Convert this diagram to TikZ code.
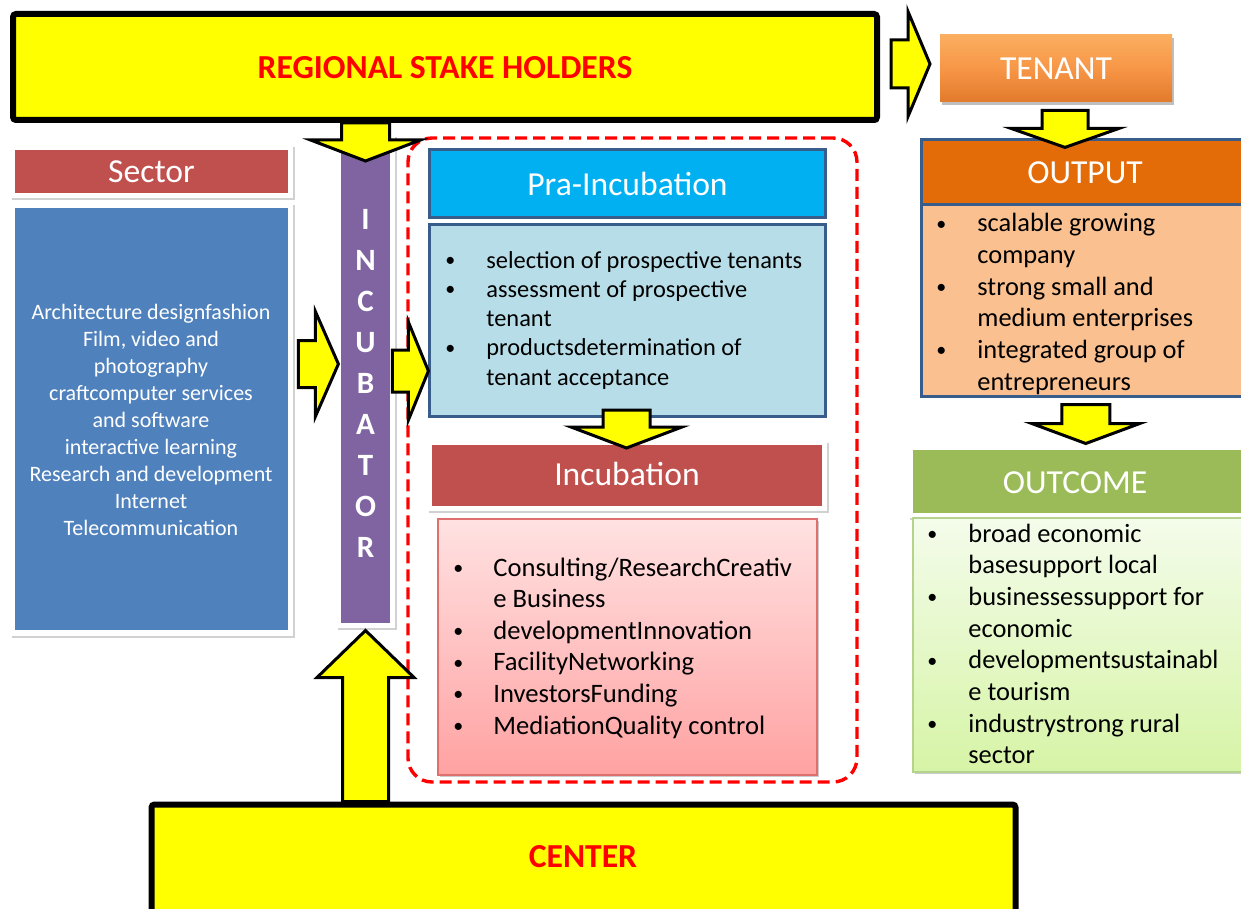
\documentclass[tikz,border=0pt]{standalone}
\usepackage{fontspec}
\setmainfont{Carlito}
\usetikzlibrary{shadows,calc,fit}
\definecolor{cYel}{HTML}{FFFF00}
\definecolor{cRed}{HTML}{FF0000}
\definecolor{cSecHdr}{HTML}{C0504D}
\definecolor{cSecBody}{HTML}{4F81BD}
\definecolor{cPurple}{HTML}{8064A2}
\definecolor{cBlueBorder}{HTML}{385D8A}
\definecolor{cPraHdr}{HTML}{00B0F0}
\definecolor{cPraBody}{HTML}{B7DEE8}
\definecolor{cOutHdr}{HTML}{E36C09}
\definecolor{cOutBody}{HTML}{FAC090}
\definecolor{cOutcHdr}{HTML}{9BBB59}
\definecolor{cOutcTop}{HTML}{F4FCEB}
\definecolor{cOutcBot}{HTML}{D6F4A6}
\definecolor{cOutcBorder}{HTML}{B5D38A}
\definecolor{cIncTop}{HTML}{FFE2E2}
\definecolor{cIncBot}{HTML}{FFA2A2}
\definecolor{cIncBorder}{HTML}{E07070}
\definecolor{cTenTop}{HTML}{FBAE60}
\definecolor{cTenMid}{HTML}{F79646}
\definecolor{cTenBot}{HTML}{E27A2C}
\tikzset{
  bigbox/.style={draw=black, line width=3pt, fill=cYel, rounded corners=1.5pt, inner sep=0pt,
    drop shadow={shadow xshift=1pt, shadow yshift=-1.5pt, opacity=0.3, fill=black}},
  framebox/.style={fill=white, inner sep=0pt,
    drop shadow={shadow xshift=1pt, shadow yshift=-1pt, opacity=0.18, fill=black}},
  plainbox/.style={inner sep=0pt},
  bluebox/.style={draw=cBlueBorder, line width=1.5pt, inner sep=0pt},
  hdrtext/.style={text=white, font=\fontsize{16.8}{20}\selectfont},
  bigtext/.style={text=cRed, font=\bfseries\fontsize{16.8}{20}\selectfont},
  fatarrow/.style={draw=black, line width=1.5pt, fill=cYel, line join=miter},
  listtext/.style={anchor=base west, inner sep=0pt, text=black},
}
\newcommand{\fatright}[5]{\draw[fatarrow] (#1) ++(0,-#2) -- ++(#3,0) -- ++(0,{#2-#4}) -- ++(#5,#4) -- ++(-#5,#4) -- ++(0,{#2-#4}) -- ++(-#3,0) -- cycle;}
\newcommand{\fatdown}[5]{\draw[fatarrow] (#1) ++(-#2,0) -- ++(0,#3) -- ++({#2-#4},0) -- ++(#4,#5) -- ++(#4,-#5) -- ++({#2-#4},0) -- ++(0,-#3) -- cycle;}
\newcommand{\fatup}[5]{\draw[fatarrow] (#1) ++(-#2,0) -- ++(0,-#3) -- ++({#2-#4},0) -- ++(#4,-#5) -- ++(#4,#5) -- ++({#2-#4},0) -- ++(0,#3) -- cycle;}
\newcommand{\blist}[2]{\begin{tabular}[t]{@{}p{#1}@{}l@{}}#2\end{tabular}}
\newcommand{\bul}{{\fontsize{10}{10}\selectfont\raisebox{0.8pt}{\textbullet}}}
\begin{document}
\begin{tikzpicture}[x=0.5pt,y=-0.5pt]
\useasboundingbox (0,0) rectangle (1241,909);
\fill[white] (0,0) rectangle (1241,909);

% top and bottom yellow blocks
\node[bigbox, fit={(13,14)(877,120)}] (rsh) {};
\node[bigtext] (rshtxt) at (445,68) {REGIONAL STAKE HOLDERS};
\node[bigbox, fit={(151.5,804.5)(1015.5,940)}] (ctr) {};
\node[bigtext] (ctrtxt) at (583,857) {CENTER};

% sector
\node[framebox, fit={(10,145)(293,198)}] (secframe) {};
\node[plainbox, fill=cSecHdr, fit={(15,150)(288,193)}] (sechdr) {};
\node[hdrtext] (sechdrtxt) at (sechdr.center) {Sector};
\node[framebox, fit={(10,203)(293,636)}] (secbodyframe) {};
\node[plainbox, fill=cSecBody, fit={(15,208)(288,630)}] (secbody) {};
\node[anchor=base, inner sep=0pt, text=white, font=\fontsize{11}{13.5}\selectfont] (sectxt) at (151,319)
  {\begin{tabular}[t]{@{}c@{}}Architecture designfashion\\ Film, video and\\ photography\\ craftcomputer services\\ and software\\ interactive learning\\ Research and development\\ Internet\\ Telecommunication\end{tabular}};

% incubator bar
\node[framebox, fit={(336,135)(395,628)}] (incframe) {};
\node[plainbox, fill=cPurple, fit={(341,140)(390,623)}] (incbar) {};
\node[inner sep=0pt, text=white, font=\bfseries\fontsize{15.5}{20.5}\selectfont] (inctxt) at (365.5,385)
  {\begin{tabular}{@{}c@{}}I\\N\\C\\U\\B\\A\\T\\O\\R\end{tabular}};

% dashed phase frame
\node[plainbox, draw=cRed, line width=1.7pt, dash pattern=on 6pt off 3pt, rounded corners=12pt, fit={(408,138)(857,782)}] (phase) {};

% pra-incubation
\node[bluebox, fill=cPraHdr, fit={(429.5,149.5)(825.5,217.5)}] (prahdr) {};
\node[hdrtext] (prahdrtxt) at (prahdr.center) {Pra-Incubation};
\node[bluebox, fill=cPraBody, fit={(429.5,224.5)(825.5,416.5)}] (prabody) {};
\node[listtext, font=\fontsize{12.2}{14.65}\selectfont] (pralist) at (445,268)
  {\blist{20.5pt}{\bul & selection of prospective tenants\\ \bul & assessment of prospective\\ & tenant\\ \bul & productsdetermination of\\ & tenant acceptance}};

% incubation
\node[framebox, fit={(427,441)(827,511)}] (incuframe) {};
\node[plainbox, fill=cSecHdr, fit={(432,445)(822,506)}] (incuhdr) {};
\node[hdrtext] (incuhdrtxt) at (627,474) {Incubation};
\node[plainbox, draw=cIncBorder, line width=0.6pt, top color=cIncTop, bottom color=cIncBot, fit={(438,519)(817,775)},
  drop shadow={shadow xshift=1pt, shadow yshift=-1pt, opacity=0.2, fill=black}] (incubody) {};
\node[listtext, font=\fontsize{13.3}{15.8}\selectfont] (inculist) at (453,576)
  {\blist{20pt}{\bul & Consulting/ResearchCreativ\\ & e Business\\ \bul & developmentInnovation\\ \bul & FacilityNetworking\\ \bul & InvestorsFunding\\ \bul & MediationQuality control}};

% tenant
\node[plainbox, top color=cTenTop, bottom color=cTenBot, middle color=cTenMid, fit={(940,35)(1172,102)},
  drop shadow={shadow xshift=1pt, shadow yshift=-1.5pt, opacity=0.25, fill=black}] (tenant) {};
\node[hdrtext] (tenanttxt) at (tenant.center) {TENANT};

% output
\node[bluebox, fill=cOutHdr, fit={(921.5,139.5)(1250,205)}] (outhdr) {};
\node[hdrtext] (outhdrtxt) at (1085,173) {OUTPUT};
\node[bluebox, fill=cOutBody, fit={(921.5,205)(1250,396.5)}] (outbody) {};
\node[listtext, font=\fontsize{13.2}{15.8}\selectfont] (outlist) at (936,232)
  {\blist{20.5pt}{\bul & scalable growing\\ & company\\ \bul & strong small and\\ & medium enterprises\\ \bul & integrated group of\\ & entrepreneurs}};

% outcome
\node[framebox, fit={(908,446)(1250,518)}] (outcframe) {};
\node[plainbox, fill=cOutcHdr, fit={(913,450)(1250,513)}] (outchdr) {};
\node[hdrtext] (outchdrtxt) at (1075,483) {OUTCOME};
\node[plainbox, draw=cOutcBorder, line width=0.6pt, top color=cOutcTop, bottom color=cOutcBot, fit={(913,518)(1250,772)},
  drop shadow={shadow xshift=1pt, shadow yshift=-1pt, opacity=0.2, fill=black}] (outcbody) {};
\node[listtext, font=\fontsize{13.2}{15.85}\selectfont] (outclist) at (927,542)
  {\blist{20.5pt}{\bul & broad economic\\ & basesupport local\\ \bul & businessessupport for\\ & economic\\ \bul & developmentsustainabl\\ & e tourism\\ \bul & industrystrong rural\\ & sector}};

% block arrows (connectors)
\coordinate (a1) at ($(rsh.east)+(11,-3)$);
\fatright{a1}{24}{17}{52.5}{22}
\coordinate (a2) at (rsh.south -| incbar.center);
\fatdown{a2}{24}{17}{55}{21}
\coordinate (a3) at ($(secbody.east)+(10,-55)$);
\fatright{a3}{23.5}{17}{52.5}{23}
\coordinate (a4) at ($(incbar.east)+(2,-10.5)$);
\fatright{a4}{21}{16}{49}{20}
\coordinate (a5) at ($(tenant.south)+(9,8)$);
\fatdown{a5}{23}{18}{54}{19}
\coordinate (a6) at ($(prabody.south)+(-1,-8)$);
\fatdown{a6}{23.5}{17}{55.5}{21}
\coordinate (a7) at ($(outbody.south)+(0,6.5)$);
\fatdown{a7}{24}{19}{54}{20}
\coordinate (a8) at (ctr.north -| incbar.center);
\fatup{a8}{23}{124}{48.5}{47}
\end{tikzpicture}
\end{document}
